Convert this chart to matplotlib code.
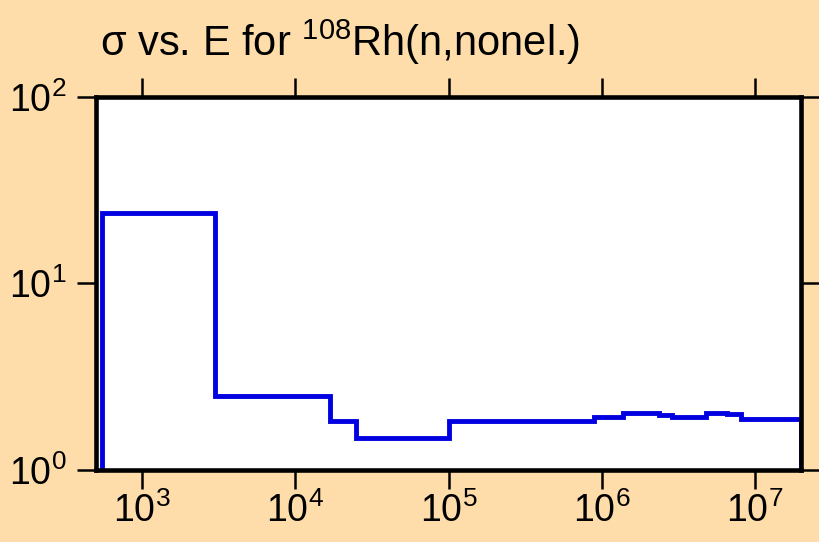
import matplotlib
matplotlib.use("Agg")
import matplotlib.pyplot as plt
from matplotlib.ticker import LogLocator, LogFormatterMathtext, NullLocator

plt.rcParams['font.family'] = ['Liberation Sans', 'DejaVu Sans']
plt.rcParams['mathtext.fontset'] = 'custom'
plt.rcParams['mathtext.rm'] = 'Liberation Sans'
plt.rcParams['mathtext.it'] = 'Liberation Sans'
plt.rcParams['mathtext.bf'] = 'Liberation Sans'

# Group boundaries (eV) and cross sections (b)
energy_edges = [550, 3000, 16800, 24800, 1.0e5, 3.9e5, 8.9e5, 1.38e6,
                2.37e6, 2.88e6, 4.77e6, 6.56e6, 8.05e6, 2.0e7]
sigma = [23.8, 2.49, 1.82, 1.49, 1.84, 1.82, 1.93, 2.03,
         1.98, 1.93, 2.01, 2.00, 1.87]
title = r"σ vs. E for $^{108}$Rh(n,nonel.)"

bg = '#FEDDAB'
fig = plt.figure(figsize=(8.2, 5.42), dpi=100, facecolor=bg)
ax = fig.add_axes([0.117, 0.133, 0.860, 0.688])
ax.set_facecolor('white')

ax.stairs(sigma, energy_edges, baseline=0.5, color='#0000E0', linewidth=3.5)

ax.set_xscale('log')
ax.set_yscale('log')
ax.set_xlim(500, 2.0e7)
ax.set_ylim(1, 100)

ax.xaxis.set_major_locator(LogLocator(base=10, numticks=20))
ax.xaxis.set_minor_locator(NullLocator())
ax.yaxis.set_major_locator(LogLocator(base=10, numticks=20))
ax.yaxis.set_minor_locator(NullLocator())
ax.xaxis.set_major_formatter(LogFormatterMathtext())
ax.yaxis.set_major_formatter(LogFormatterMathtext())

for s in ax.spines.values():
    s.set_linewidth(3.3)
    s.set_color('black')
    s.set_zorder(3)

ax.tick_params(which='major', direction='out', length=14, width=1.8,
               top=True, right=True, labelsize=27, color='black')
ax.tick_params(axis='x', pad=2)
ax.tick_params(axis='y', pad=7)

fig.text(0.122, 1 - 56 / 542, title, fontsize=30, ha='left', va='baseline')

fig.savefig('out.png', dpi=100, facecolor=bg)
